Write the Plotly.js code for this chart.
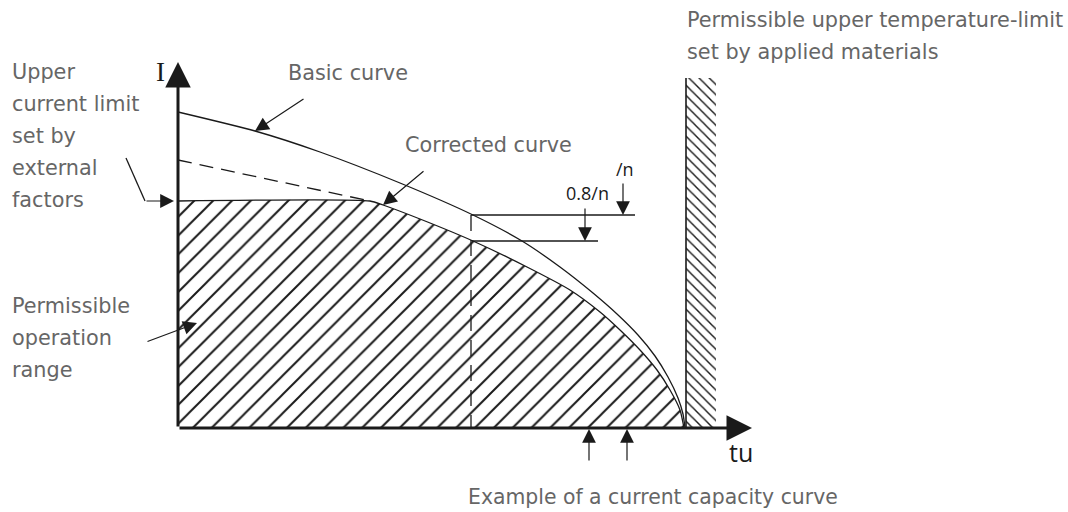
<!DOCTYPE html>
<html>
<head>
<meta charset="utf-8">
<script src="https://cdn.plot.ly/plotly-3.0.1.min.js"></script>
<style>html,body{margin:0;padding:0;background:#fff;}#chart{width:1068px;height:512px;}</style>
</head>
<body>
<div id="chart"></div>
<script>
// Diagram units: origin at the I / tu axes origin, 1 unit = 1 px
const basicX = [0, 77, 142, 222, 295, 344, 382, 415, 439, 460, 477, 490, 500, 505, 507];
const basicY = [316, 297, 276, 245, 213, 187, 161, 135, 114, 93, 72, 51, 30, 14, 0];

const correctedX = [0, 192, 205, 242, 295, 349, 392, 422, 442, 462, 479, 492, 502, 506];
const correctedY = [227, 227, 223, 209, 187, 161, 138, 116, 98, 78, 58, 38, 18, 0];

const dashedExtX = [0, 192];
const dashedExtY = [268, 227];

const checkX = [293, 293];
const checkY = [213, 0];

const levelX = [293, 457, null, 294, 420];
const levelY = [213, 213, null, 187, 187];

const wallX = [508, 508];
const wallY = [0, 350];
const wallHatchX = [508, 538, 538, 508, 508];
const wallHatchY = [0, 0, 350, 350, 0];

const bendX = [-52, -33];
const bendY = [270, 227];

// arrows: tip and tail
const axisArrowTipX = [0, 574];
const axisArrowTipY = [366, 0];
const axisArrowTailX = [0, 0];
const axisArrowTailY = [0, 0];

const pointerTipX = [77, 205, -4, 19, 445, 407, 411, 449];
const pointerTipY = [297, 223, 227, 105, 213, 187, -1, -1];
const pointerTailX = [127, 247, -33, -32, 445, 407, 411, 449];
const pointerTailY = [330, 258, 227, 86, 246, 221, -34, -34];

// grey labels
const labelText = ["Upper", "current limit", "set by", "external", "factors",
  "Permissible", "operation", "range",
  "Basic curve", "Corrected curve",
  "Permissible upper temperature-limit", "set by applied materials"];
const labelX = [-168, -168, -168, -168, -168, -168, -168, -168, 108, 225, 507, 507];
const labelY = [356, 324, 292, 260, 228, 122, 90, 58, 355, 283, 408, 376];

const captionText = "Example of a current capacity curve";
const captionX = 475, captionY = -69;

const blackText = ["/n", "0.8/n"];
const blackX = [436, 386];
const blackY = [259, 235];

const axisLabelI = "I", axisLabelT = "tu";

const ink = "#1a1a1a";
const grey = "#666666";

const traces = [
  {x: wallHatchX, y: wallHatchY, mode: "lines", fill: "toself", line: {width: 0, color: "rgba(0,0,0,0)"},
   fillcolor: "white", fillpattern: {shape: "\\", fgcolor: ink, bgcolor: "white", size: 7.2, solidity: 0.2}},
  {x: correctedX, y: correctedY, mode: "lines", fill: "tozeroy",
   line: {color: ink, width: 1.3, shape: "spline", smoothing: 0.6},
   fillcolor: "white", fillpattern: {shape: "/", fgcolor: ink, bgcolor: "white", size: 13.3, solidity: 0.15}},
  {x: basicX, y: basicY, mode: "lines", line: {color: ink, width: 1.3, shape: "spline", smoothing: 0.6}},
  {x: dashedExtX, y: dashedExtY, mode: "lines", line: {color: ink, width: 1.3, dash: "14px,8px"}},
  {x: checkX, y: checkY, mode: "lines", line: {color: ink, width: 1.3, dash: "16px,9px"}},
  {x: levelX, y: levelY, mode: "lines", line: {color: ink, width: 1.3}, connectgaps: false},
  {x: wallX, y: wallY, mode: "lines", line: {color: ink, width: 1.6}},
  {x: bendX, y: bendY, mode: "lines", line: {color: ink, width: 1.3}}
];

const annotations = [];
for (let i = 0; i < axisArrowTipX.length; i++) {
  annotations.push({x: axisArrowTipX[i], y: axisArrowTipY[i], ax: axisArrowTailX[i], ay: axisArrowTailY[i],
    xref: "x", yref: "y", axref: "x", ayref: "y", text: "", showarrow: true,
    arrowhead: 2, arrowsize: 1.7, arrowwidth: 3, arrowcolor: ink, standoff: 0});
}
for (let i = 0; i < pointerTipX.length; i++) {
  annotations.push({x: pointerTipX[i], y: pointerTipY[i], ax: pointerTailX[i], ay: pointerTailY[i],
    xref: "x", yref: "y", axref: "x", ayref: "y", text: "", showarrow: true,
    arrowhead: 2, arrowsize: 2.3, arrowwidth: 1.2, arrowcolor: ink, standoff: 0});
}
for (let i = 0; i < labelText.length; i++) {
  annotations.push({x: labelX[i], y: labelY[i], xref: "x", yref: "y", text: labelText[i], showarrow: false,
    xanchor: "left", yanchor: "middle", font: {family: "DejaVu Sans", size: 20.8, color: grey}});
}
annotations.push({x: captionX, y: captionY, xref: "x", yref: "y", text: captionText, showarrow: false,
  xanchor: "center", yanchor: "middle", font: {family: "DejaVu Sans", size: 20.4, color: grey}});
for (let i = 0; i < blackText.length; i++) {
  annotations.push({x: blackX[i], y: blackY[i], xref: "x", yref: "y", text: blackText[i], showarrow: false,
    xanchor: "left", yanchor: "middle", font: {family: "Open Sans", size: 18, color: ink}});
}
annotations.push({x: -18, y: 356, xref: "x", yref: "y", text: axisLabelI, showarrow: false,
  xanchor: "center", yanchor: "middle", font: {family: "Liberation Serif", size: 27, color: ink}});
annotations.push({x: 549, y: -24, xref: "x", yref: "y", text: axisLabelT, showarrow: false,
  xanchor: "left", yanchor: "middle", font: {family: "Open Sans", size: 25, color: ink}});

const layout = {
  width: 1068, height: 512,
  margin: {l: 0, r: 0, t: 0, b: 0, pad: 0},
  paper_bgcolor: "white", plot_bgcolor: "white",
  showlegend: false,
  xaxis: {range: [-178, 890], visible: false, fixedrange: true},
  yaxis: {range: [-84, 428], visible: false, fixedrange: true},
  annotations: annotations
};

Plotly.newPlot("chart", traces, layout, {displayModeBar: false, staticPlot: true});
</script>
</body>
</html>
